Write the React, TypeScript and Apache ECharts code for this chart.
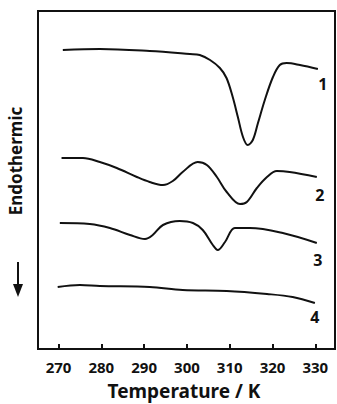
import React, { useEffect, useRef } from "react";
import * as echarts from "echarts";

// Temperature (K) / heat-flow (arbitrary units) readings for each DSC trace
const curve1T = [271.0, 279.65, 291.3, 300.7, 303.0, 305.4, 307.7, 309.25, 310.7, 311.9, 313.1, 314.2, 315.4, 316.6, 318.2, 320.1, 321.7, 323.3, 326.4, 330.6];
const curve1V = [29.9, 30.0, 29.8, 29.5, 29.4, 28.9, 28.1, 27.1, 25.2, 23.2, 21.2, 20.4, 20.9, 22.6, 24.9, 27.2, 28.4, 28.6, 28.4, 28.0];

const curve2T = [270.7, 275.7, 279.65, 283.6, 288.3, 291.3, 294.4, 296.7, 299.0, 302.5, 304.65, 307.0, 309.3, 312.4, 314.0, 316.35, 318.7, 321.0, 324.0, 330.35];
const curve2V = [19.1, 19.1, 18.7, 18.1, 17.2, 16.7, 16.4, 16.8, 17.7, 18.7, 18.4, 17.2, 15.7, 14.5, 14.7, 16.1, 17.2, 17.8, 17.7, 17.2];

const curve3T = [270.3, 277.3, 282.0, 286.7, 290.2, 292.0, 294.4, 298.3, 301.4, 303.7, 306.05, 307.2, 308.9, 311.2, 314.7, 322.4, 330.35];
const curve3V = [12.6, 12.5, 12.1, 11.4, 11.0, 11.4, 12.4, 12.8, 12.6, 11.9, 10.4, 9.9, 10.7, 12.1, 12.1, 11.6, 10.6];

const curve4T = [269.8, 275.0, 279.65, 291.3, 299.0, 309.3, 318.7, 324.7, 329.9];
const curve4V = [6.2, 6.4, 6.3, 6.2, 5.9, 5.8, 5.5, 5.2, 4.6];

const curveNames = ["1", "2", "3", "4"];
const xTicks = [270, 280, 290, 300, 310, 320, 330];
const xTitle = "Temperature / K";
const yTitle = "Endothermic";

const FONT = "'Noto Sans', 'DejaVu Sans', sans-serif";

export default function App() {
  const ref = useRef<HTMLDivElement>(null);
  useEffect(() => {
    if (!ref.current) return;
    const chart = echarts.init(ref.current, undefined, { renderer: "svg" });
    const offsets = [[5, 15], [3, 18], [1, 17], [0, 14]];
    const series = [
      [curve1T, curve1V],
      [curve2T, curve2V],
      [curve3T, curve3V],
      [curve4T, curve4V],
    ].map(([t, v], i) => ({
      type: "line",
      name: curveNames[i],
      data: t.map((x, j) => [x, v[j]]),
      smooth: 0.35,
      symbol: "none",
      showSymbol: false,
      lineStyle: { color: "#111", width: 2 },
      endLabel: {
        show: true,
        formatter: curveNames[i],
        distance: 0,
        align: "center",
        verticalAlign: "middle",
        offset: offsets[i],
        color: "#111",
        fontSize: 16,
        fontWeight: "bold",
        fontFamily: FONT,
      },
    }));
    chart.setOption({
      animation: false,
      backgroundColor: "#fff",
      grid: {
        left: 38,
        right: 2,
        top: 11,
        bottom: 55,
        show: true,
        borderColor: "#111",
        borderWidth: 2,
        backgroundColor: "transparent",
      },
      xAxis: {
        type: "value",
        min: 265.2,
        max: 334.6,
        axisLine: { show: true, lineStyle: { color: "#111", width: 2 } },
        axisTick: {
          show: true,
          inside: true,
          length: 5,
          lineStyle: { color: "#111", width: 2 },
          customValues: xTicks,
        },
        axisLabel: {
          customValues: xTicks,
          margin: 10,
          color: "#111",
          fontSize: 15,
          fontWeight: "bold",
          fontFamily: FONT,
        },
        splitLine: { show: false },
      },
      yAxis: {
        type: "value",
        min: 0,
        max: 33.8,
        axisLine: { show: false },
        axisTick: { show: false },
        axisLabel: { show: false },
        splitLine: { show: false },
      },
      graphic: [
        {
          type: "text",
          x: 184,
          y: 391,
          style: {
            text: xTitle,
            align: "center",
            verticalAlign: "middle",
            fontSize: 19,
            fontWeight: "bold",
            fontFamily: FONT,
            fill: "#111",
          },
        },
        {
          type: "text",
          x: 15,
          y: 161,
          rotation: Math.PI / 2,
          style: {
            text: yTitle,
            align: "center",
            verticalAlign: "middle",
            fontSize: 17,
            fontWeight: "bold",
            fontFamily: FONT,
            fill: "#111",
          },
        },
        {
          type: "line",
          shape: { x1: 18, y1: 262, x2: 18, y2: 290 },
          style: { stroke: "#111", lineWidth: 2 },
        },
        {
          type: "polygon",
          shape: { points: [[13, 284], [23, 284], [18, 297]] },
          style: { fill: "#111" },
        },
      ],
      series,
    });
    return () => chart.dispose();
  }, []);
  return <div ref={ref} style={{ width: 337, height: 404, position: "absolute", left: 0, top: 0 }} />;
}
